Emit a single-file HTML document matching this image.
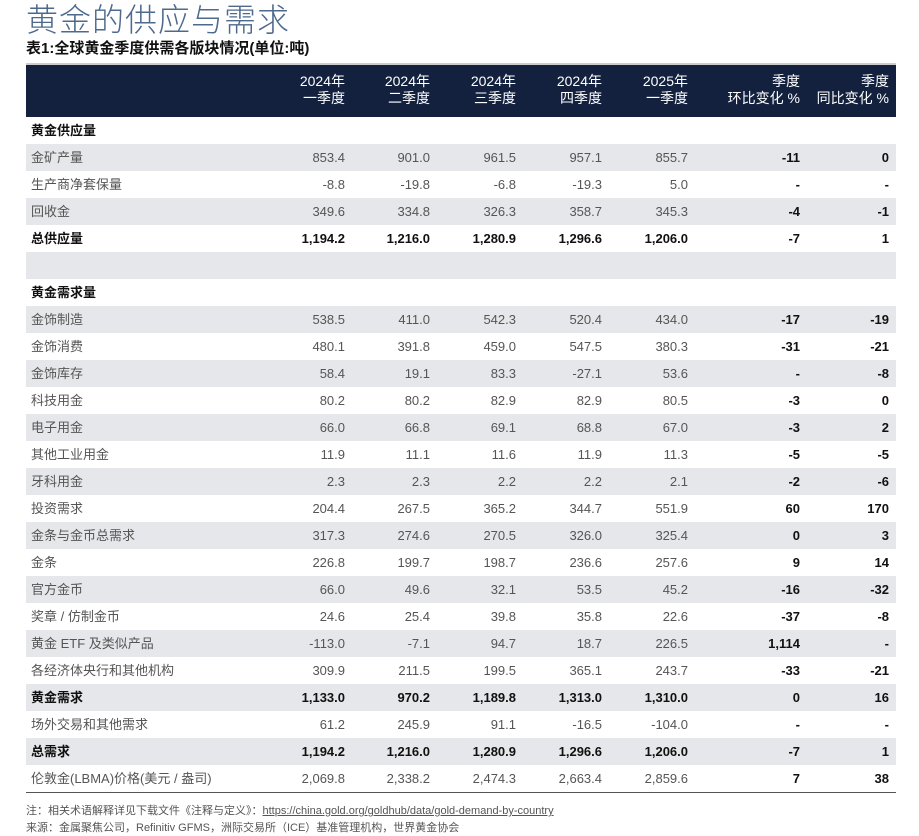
<!DOCTYPE html>
<html><head><meta charset="utf-8"><style>
body{margin:0;width:919px;height:836px;background:#fff;font-family:"Liberation Sans","Noto Sans CJK SC",sans-serif;color:#333;position:relative;overflow:hidden}
.t{position:absolute;left:26px;top:-2px;font-size:32px;line-height:44px;color:#4d6a8e;font-weight:300;letter-spacing:1px}
.s{position:absolute;left:26px;top:37px;font-size:15px;font-weight:bold;color:#111}
.top{position:absolute;left:26px;top:63px;width:870px;height:2px;background:#ccc}
.h{position:absolute;left:26px;top:65px;width:870px;height:52px;background:#13213f;color:#fff;font-size:14px}
.h div{position:absolute;top:8px;text-align:right;line-height:17px}
.r{position:absolute;left:26px;width:870px;height:27px;font-size:13px;color:#555}
.r.g{background:#e5e7ea}
.r.b{font-weight:bold;color:#111}
.r span{position:absolute;top:0;line-height:27px;height:27px;text-align:right}
.r .l{left:5px;text-align:left}
.r .c{color:#111}
.bot{position:absolute;left:26px;top:792px;width:870px;height:1px;background:#555}
.n{position:absolute;left:26px;font-size:11px;color:#555}
</style></head><body>
<div class="t">黄金的供应与需求</div>
<div class="s">表1:全球黄金季度供需各版块情况(单位:吨)</div>
<div class="top"></div>
<div class="h">
<div style="right:551px">2024年<br>一季度</div>
<div style="right:466px">2024年<br>二季度</div>
<div style="right:380px">2024年<br>三季度</div>
<div style="right:294px">2024年<br>四季度</div>
<div style="right:208px">2025年<br>一季度</div>
<div style="right:96px">季度<br>环比变化 %</div>
<div style="right:7px">季度<br>同比变化 %</div>
</div>
<div id="rows"></div>
<script>
var d=[
["黄金供应量",0,0,"s"],
["金矿产量","853.4","901.0","961.5","957.1","855.7","-11","0"],
["生产商净套保量","-8.8","-19.8","-6.8","-19.3","5.0","-","-"],
["回收金","349.6","334.8","326.3","358.7","345.3","-4","-1"],
["总供应量","1,194.2","1,216.0","1,280.9","1,296.6","1,206.0","-7","1","b"],
["",0],
["黄金需求量",0,0,"s"],
["金饰制造","538.5","411.0","542.3","520.4","434.0","-17","-19"],
["金饰消费","480.1","391.8","459.0","547.5","380.3","-31","-21"],
["金饰库存","58.4","19.1","83.3","-27.1","53.6","-","-8"],
["科技用金","80.2","80.2","82.9","82.9","80.5","-3","0"],
["电子用金","66.0","66.8","69.1","68.8","67.0","-3","2"],
["其他工业用金","11.9","11.1","11.6","11.9","11.3","-5","-5"],
["牙科用金","2.3","2.3","2.2","2.2","2.1","-2","-6"],
["投资需求","204.4","267.5","365.2","344.7","551.9","60","170"],
["金条与金币总需求","317.3","274.6","270.5","326.0","325.4","0","3"],
["金条","226.8","199.7","198.7","236.6","257.6","9","14"],
["官方金币","66.0","49.6","32.1","53.5","45.2","-16","-32"],
["奖章 / 仿制金币","24.6","25.4","39.8","35.8","22.6","-37","-8"],
["黄金 ETF 及类似产品","-113.0","-7.1","94.7","18.7","226.5","1,114","-"],
["各经济体央行和其他机构","309.9","211.5","199.5","365.1","243.7","-33","-21"],
["黄金需求","1,133.0","970.2","1,189.8","1,313.0","1,310.0","0","16","b"],
["场外交易和其他需求","61.2","245.9","91.1","-16.5","-104.0","-","-"],
["总需求","1,194.2","1,216.0","1,280.9","1,296.6","1,206.0","-7","1","b"],
["伦敦金(LBMA)价格(美元 / 盎司)","2,069.8","2,338.2","2,474.3","2,663.4","2,859.6","7","38"]];
var R=[551,466,380,294,208,96,7],h="";
d.forEach(function(r,i){
var cls="r"+(i%2==1?" g":"")+((r[8]=="b"||r[3]=="s")?" b":"");
h+='<div class="'+cls+'" style="top:'+(117+i*27)+'px"><span class="l">'+r[0]+'</span>';
if(r.length>=8)for(var j=0;j<7;j++)h+='<span class="'+(j>4?'c':'')+'" style="right:'+R[j]+'px;'+(j>4?'font-weight:bold;':'')+'">'+r[j+1]+'</span>';
h+='</div>';});
document.getElementById("rows").innerHTML=h;
</script>
<div class="bot"></div>
<div class="n" style="top:802px">注：相关术语解释详见下载文件《注释与定义》：<u>https://china.gold.org/goldhub/data/gold-demand-by-country</u></div>
<div class="n" style="top:819px">来源：金属聚焦公司，Refinitiv GFMS，洲际交易所（ICE）基准管理机构，世界黄金协会</div>
</body></html>
